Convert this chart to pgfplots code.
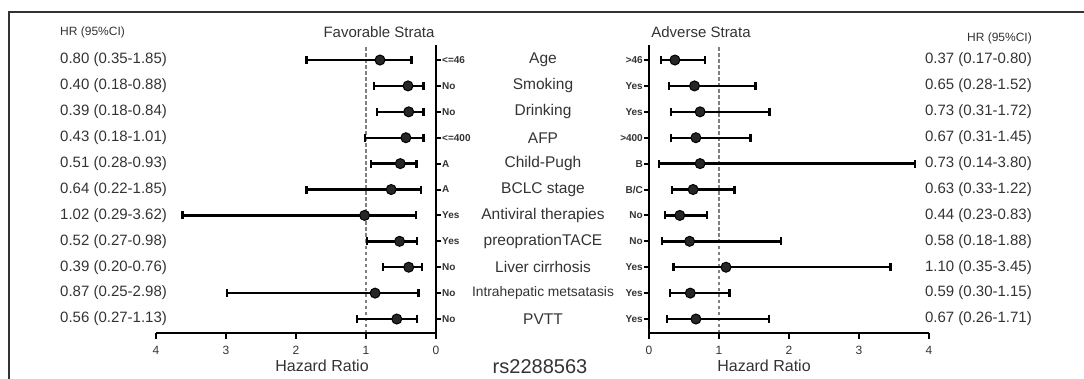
\documentclass[border=0pt]{standalone}
\usepackage{fontspec}
\setmainfont{Liberation Sans}
\usepackage{pgfplots}
\usepackage{pgfplotstable}
\pgfplotsset{compat=1.18}
\definecolor{txt}{HTML}{333333}

% row 11 = Age (top) ... row 1 = PVTT (bottom)
\pgfplotstableread{
row hr lo hi
11 0.80 0.35 1.85
10 0.40 0.18 0.88
9 0.39 0.18 0.84
8 0.43 0.18 1.01
7 0.51 0.28 0.93
6 0.64 0.22 1.85
5 1.02 0.29 3.62
4 0.52 0.27 0.98
3 0.39 0.20 0.76
2 0.87 0.25 2.98
1 0.56 0.27 1.13
}\favtab

\pgfplotstableread{
row hr lo hi
11 0.37 0.17 0.80
10 0.65 0.28 1.52
9 0.73 0.31 1.72
8 0.67 0.31 1.45
7 0.73 0.14 3.80
6 0.63 0.33 1.22
5 0.44 0.23 0.83
4 0.58 0.18 1.88
3 1.10 0.35 3.45
2 0.59 0.30 1.15
1 0.67 0.26 1.71
}\advtab

\pgfplotsset{
  forest/.style={
    scale only axis, width=280pt, height=288pt,
    xmin=0, xmax=4, ymin=0.46, ymax=11.58,
    xtick={0,1,2,3,4}, ytick={1,...,11},
    tick align=outside, clip=false,
    major tick length=5pt,
    every tick label/.append style={text=txt},
    x tick label style={font=\fontsize{12}{13}\selectfont, yshift=-5pt},
    y tick label style={font=\bfseries\fontsize{10}{11}\selectfont, inner sep=1pt},
    /pgf/number format/assume math mode=true,
  },
  ci/.style={only marks, mark=*, mark size=5pt,
    mark options={fill=black!85, draw=black, line width=1pt},
    error bars/.cd, x dir=both, x explicit,
    error bar style={line width=2.4pt, black},
    error mark options={rotate=90, line width=2.2pt, black, mark size=4pt}},
  refline/.style={gray, line width=1.4pt, dash pattern=on 3.5pt off 2.5pt},
}

\begin{document}
\begin{tikzpicture}
\path[use as bounding box] (0pt,0pt) rectangle (1084pt,-379pt);
\draw[line width=2.5pt, black!80] (1084pt,-12pt) -- (9pt,-12pt) -- (9pt,-379pt);

\begin{axis}[forest, at={(156pt,-333pt)}, anchor=south west,
  x dir=reverse, axis x line*=bottom, axis y line*=right,
  axis line style={line width=2.4pt, black}, tick style={line width=2pt, black},
  yticklabels={No,No,No,Yes,Yes,A,A,{<=400},No,No,{<=46}}]
\addplot[refline] coordinates {(1,0.46) (1,11.58)};
\addplot[ci] table[x=hr, y=row,
  x error plus expr=\thisrow{hi}-\thisrow{hr},
  x error minus expr=\thisrow{hr}-\thisrow{lo}] {\favtab};
\end{axis}

\begin{axis}[forest, at={(649pt,-333pt)}, anchor=south west,
  axis x line*=bottom, axis y line*=left,
  axis line style={line width=2.4pt, black}, tick style={line width=2pt, black},
  yticklabels={Yes,Yes,Yes,No,No,B/C,B,{>400},Yes,Yes,{>46}}]
\addplot[refline] coordinates {(1,0.46) (1,11.58)};
\addplot[ci] table[x=hr, y=row,
  x error plus expr=\thisrow{hi}-\thisrow{hr},
  x error minus expr=\thisrow{hr}-\thisrow{lo}] {\advtab};
\end{axis}

% axis spines and tick marks drawn again on top, in plain black
\draw[line width=2.4pt, black] (156pt,-333pt) -- (436pt,-333pt) -- (436pt,-45pt);
\draw[line width=2.4pt, black] (929pt,-333pt) -- (649pt,-333pt) -- (649pt,-45pt);
\foreach \k in {0,1,2,3,4}{
  \draw[line width=2pt, black] (156pt+\k*70pt,-333pt) -- (156pt+\k*70pt,-339pt);
  \draw[line width=2pt, black] (649pt+\k*70pt,-333pt) -- (649pt+\k*70pt,-339pt);
}
\foreach \i in {1,...,11}{
  \pgfmathsetmacro\yy{-(60+(\i-1)*25.9)}
  \draw[line width=1.8pt, black] (436pt,\yy pt) -- (441pt,\yy pt);
  \draw[line width=1.8pt, black] (644pt,\yy pt) -- (649pt,\yy pt);
}

\begin{scope}[every node/.style={text=txt, inner sep=0pt}]
\node[anchor=west, font=\fontsize{12}{14}\selectfont] at (60pt,-32pt) {HR (95\%CI)};
\node[anchor=east, font=\fontsize{12}{14}\selectfont] at (1032pt,-38pt) {HR (95\%CI)};
\node[font=\fontsize{15}{18}\selectfont] at (379pt,-32pt) {Favorable Strata};
\node[font=\fontsize{15}{18}\selectfont] at (701pt,-32pt) {Adverse Strata};
\node[font=\fontsize{16}{18}\selectfont] at (322pt,-366pt) {Hazard Ratio};
\node[font=\fontsize{16}{18}\selectfont] at (764pt,-366pt) {Hazard Ratio};
\node[font=\fontsize{20}{22}\selectfont] at (540pt,-367pt) {rs2288563};

\foreach \t [count=\i] in {0.80 (0.35-1.85),0.40 (0.18-0.88),0.39 (0.18-0.84),0.43 (0.18-1.01),0.51 (0.28-0.93),0.64 (0.22-1.85),1.02 (0.29-3.62),0.52 (0.27-0.98),0.39 (0.20-0.76),0.87 (0.25-2.98),0.56 (0.27-1.13)}{
  \pgfmathsetmacro\yy{-(60+(\i-1)*25.9)}
  \node[anchor=west, font=\fontsize{15}{18}\selectfont] at (60pt,\yy pt) {\t};
}
\foreach \t [count=\i] in {0.37 (0.17-0.80),0.65 (0.28-1.52),0.73 (0.31-1.72),0.67 (0.31-1.45),0.73 (0.14-3.80),0.63 (0.33-1.22),0.44 (0.23-0.83),0.58 (0.18-1.88),1.10 (0.35-3.45),0.59 (0.30-1.15),0.67 (0.26-1.71)}{
  \pgfmathsetmacro\yy{-(60+(\i-1)*25.9)}
  \node[anchor=east, font=\fontsize{15}{18}\selectfont] at (1032pt,\yy pt) {\t};
}
\foreach \t [count=\i] in {Age,Smoking,Drinking,AFP,Child-Pugh,BCLC stage,Antiviral therapies,preoprationTACE,Liver cirrhosis,{},PVTT}{
  \pgfmathsetmacro\yy{-(60+(\i-1)*25.9)}
  \node[font=\fontsize{15.5}{18}\selectfont] at (543pt,\yy pt) {\t};
}
\node[font=\fontsize{13.8}{16}\selectfont] at (543pt,{-(60+9*25.9)*1pt}) {Intrahepatic metsatasis};
\end{scope}
\end{tikzpicture}
\end{document}
